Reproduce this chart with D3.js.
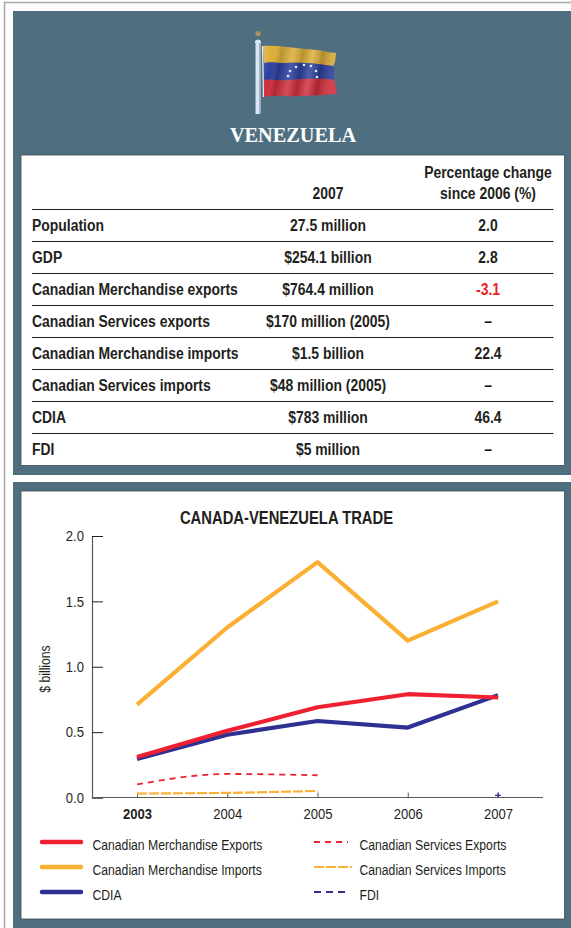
<!DOCTYPE html>
<html>
<head>
<meta charset="utf-8">
<script src="https://cdn.jsdelivr.net/npm/d3@7"></script>
<style>
html, body { margin: 0; padding: 0; background: #fff; }
svg { display: block; }
</style>
</head>
<body>
<div id="graph-container"></div>
<script>
const width = 571;
const height = 928;
const marginTop = 536;
const marginRight = 28;
const marginBottom = 130.5;
const marginLeft = 92;

// Table content
const rowLabels = ["Population", "GDP", "Canadian Merchandise exports", "Canadian Services exports",
    "Canadian Merchandise imports", "Canadian Services imports", "CDIA", "FDI"];
const values2007 = ["27.5 million", "$254.1 billion", "$764.4 million", "$170 million (2005)",
    "$1.5 billion", "$48 million (2005)", "$783 million", "$5 million"];
const pctChange = ["2.0", "2.8", "-3.1", "–", "22.4", "–", "46.4", "–"];

// Chart values, $ billions
const years = ["2003", "2004", "2005", "2006", "2007"];
const merchExports = [0.31, 0.51, 0.69, 0.79, 0.765];
const merchImports = [0.71, 1.3, 1.8, 1.2, 1.5];
const cdia = [0.295, 0.48, 0.585, 0.535, 0.783];
const servExports = [0.1, 0.18, 0.17, null, null];
const servImports = [0.03, 0.035, 0.05, null, null];
const fdi = [null, null, null, null, 0.005];
const yTicks = [0, 0.5, 1, 1.5, 2];

const red = "#ee2031";
const orange = "#fbb034";
const navy = "#2e3192";
const panel = "#4f6f80";
const ink = "#231f20";
const sans = "'Liberation Sans', sans-serif";

const svg = d3.select("#graph-container").append("svg")
    .attr("width", width)
    .attr("height", height)
    .attr("viewBox", [0, 0, width, height])
    .attr("font-family", sans)
    .attr("fill", ink);

// Page edge lines
svg.append("path")
    .attr("d", `M4.5,${height}V2.5H${width}`)
    .attr("fill", "none")
    .attr("stroke", "#a6a8ab")
    .attr("stroke-width", 1.5);

// Panels and white boxes
svg.append("rect").attr("x", 13).attr("y", 11).attr("width", width - 13).attr("height", 464).attr("fill", panel);
svg.append("rect").attr("x", 13).attr("y", 482).attr("width", width - 13).attr("height", height - 482).attr("fill", panel);
[[155, 310.5], [491, 428]].forEach(([y, h]) => {
    svg.append("rect")
        .attr("x", 21).attr("y", y).attr("width", 543.5).attr("height", h)
        .attr("fill", "#fff").attr("stroke", "#3c4a52").attr("stroke-width", 0.8);
});

// Flag
const defs = svg.append("defs");
defs.append("filter").attr("id", "soft").append("feGaussianBlur").attr("stdDeviation", 0.5);
const folds = defs.append("linearGradient").attr("id", "folds")
    .attr("x1", 0).attr("x2", 1).attr("y1", 0).attr("y2", 0.12);
[[0, 0.18, "#fff"], [0.14, 0, "#fff"], [0.26, 0.16, "#000"], [0.42, 0.14, "#fff"], [0.55, 0.16, "#000"],
    [0.68, 0.16, "#fff"], [0.82, 0.2, "#000"], [1, 0.1, "#fff"]].forEach(([o, a, c]) => {
    folds.append("stop").attr("offset", o).attr("stop-color", c).attr("stop-opacity", a);
});
const flagOutline = "M263,46C275,45 285,47 296,48C308,50 320,49 327,52L336,53L335,62L334,66L334,80L337,92L335,94C322,95 310,96 298,96C285,97 275,94 264,97Z";
const flag = svg.append("g").attr("filter", "url(#soft)");
flag.append("rect").attr("x", 255.5).attr("y", 42).attr("width", 5).attr("height", 72).attr("fill", "#dce6f2");
flag.append("rect").attr("x", 259).attr("y", 42).attr("width", 1.5).attr("height", 72).attr("fill", "#9db4cf");
flag.append("circle").attr("cx", 258).attr("cy", 33.5).attr("r", 2.6).attr("fill", "#a8925f");
flag.append("path").attr("d", "M255,41q3,-3 6,0v2h-6z").attr("fill", "#dce6f2");
flag.append("path").attr("fill", "#dcae38")
    .attr("d", "M263,46C275,45 285,47 296,48C308,50 320,49 327,52L336,53L335,62L333,66C315,63 300,62 285,63C277,63 270,62 264,63Z");
flag.append("path").attr("fill", "#2c3f9f")
    .attr("d", "M264,63C270,62 277,63 285,63C300,62 315,63 333,66L334,66L334,80C320,78 305,79 290,80C280,81 272,79 264,80Z");
flag.append("path").attr("fill", "#cf2e3c")
    .attr("d", "M264,80C272,79 280,81 290,80C305,79 320,78 334,80L337,92L335,94C322,95 310,96 298,96C285,97 275,94 264,97Z");
flag.append("path").attr("d", flagOutline).attr("fill", "url(#folds)");
flag.append("path").attr("d", "M262.5,46L263.5,97").attr("stroke", "#e8eef5").attr("stroke-width", 1.2).attr("fill", "none");
const stars = [[288, 76], [290, 71], [296, 67], [304, 65], [311, 66], [316, 71], [317, 77]];
flag.selectAll(".star").data(stars).join("circle")
    .attr("class", "star")
    .attr("cx", d => d[0]).attr("cy", d => d[1]).attr("r", 1.3).attr("fill", "#e3e7f5");

const countryTitle = svg.append("text")
    .attr("x", 293).attr("y", 142)
    .attr("text-anchor", "middle")
    .attr("font-family", "'Liberation Serif', serif")
    .attr("font-weight", "bold")
    .attr("font-size", 20.3)
    .attr("fill", "#fff")
    .text("VENEZUELA");

// Table
const col2 = 328;
const col3 = 488;
const rowY = i => 209 + i * 32;
const table = svg.append("g").attr("font-weight", "bold").attr("font-size", 16);

table.append("text").attr("x", col2).attr("y", 198.5).attr("text-anchor", "middle").text("2007");
table.append("text").attr("x", 488).attr("y", 178).attr("text-anchor", "middle").text("Percentage change");
table.append("text").attr("x", 488).attr("y", 198.5).attr("text-anchor", "middle").text("since 2006 (%)");

table.append("g")
    .selectAll("line")
    .data(d3.range(8))
    .join("line")
    .attr("x1", 32).attr("x2", 553.5)
    .attr("y1", d => rowY(d) + 0.5).attr("y2", d => rowY(d) + 0.5)
    .attr("stroke", ink);

rowLabels.forEach((label, i) => {
    const y = rowY(i) + 22;
    table.append("text").attr("x", 32).attr("y", y).text(label);
    table.append("text").attr("x", col2).attr("y", y).attr("text-anchor", "middle").text(values2007[i]);
    table.append("text").attr("x", col3).attr("y", y).attr("text-anchor", "middle")
        .attr("fill", pctChange[i].startsWith("-") ? "#ed1c24" : ink)
        .text(pctChange[i]);
});

// Chart title
const chartTitle = svg.append("text")
    .attr("x", 286.5).attr("y", 524)
    .attr("text-anchor", "middle")
    .attr("font-weight", "bold")
    .attr("font-size", 18.5)
    .text("CANADA-VENEZUELA TRADE");

// Scales
const x = d3.scalePoint()
    .domain(years)
    .range([137, 498]);

const y = d3.scaleLinear()
    .domain([0, 2])
    .range([height - marginBottom, marginTop]);

// Axes
const yAxis = svg.append("g")
    .attr("transform", `translate(${marginLeft},0)`)
    .call(d3.axisLeft(y).tickValues(yTicks).tickFormat(d3.format(".1f")).tickSize(-11).tickPadding(7));
yAxis.select(".domain").attr("stroke", "#58595b").attr("stroke-width", 1.2);
yAxis.selectAll(".tick line").attr("stroke", ink);
yAxis.selectAll("text").attr("font-family", sans).attr("font-size", 15).attr("fill", ink).attr("x", -8);

const xAxis = svg.append("g")
    .attr("transform", `translate(0,${height - marginBottom})`)
    .call(d3.axisBottom(x).tickSize(-5).tickPadding(11));
xAxis.select(".domain").attr("d", `M${marginLeft},0H${width - marginRight}`).attr("stroke", "#58595b").attr("stroke-width", 1.2);
xAxis.selectAll(".tick line").attr("stroke", "#58595b");
xAxis.selectAll("text").attr("font-family", sans).attr("font-size", 15).attr("fill", ink);
xAxis.select(".tick text").attr("font-weight", "bold");

svg.append("text")
    .attr("transform", "translate(50,669) rotate(-90)")
    .attr("text-anchor", "middle")
    .attr("font-size", 14)
    .text("$ billions");

// Series
const series = [
    { name: "Canadian Services Exports", values: servExports, color: red, w: 1.8, dash: "6 5", col: 1, row: 0, legendEnd: 348, smooth: true },
    { name: "Canadian Services Imports", values: servImports, color: orange, w: 2.2, dash: "10 2", col: 1, row: 1, legendEnd: 352, smooth: false },
    { name: "Canadian Merchandise Imports", values: merchImports, color: orange, w: 4.2, col: 0, row: 1, legendEnd: 81 },
    { name: "CDIA", values: cdia, color: navy, w: 4.2, col: 0, row: 2, legendEnd: 81 },
    { name: "Canadian Merchandise Exports", values: merchExports, color: red, w: 4.2, col: 0, row: 0, legendEnd: 81 }
];

const line = d3.line()
    .defined(d => d.v !== null)
    .x(d => x(d.year))
    .y(d => y(d.v));

series.forEach(s => {
    line.curve(s.smooth ? d3.curveMonotoneX : d3.curveLinear);
    svg.append("path")
        .attr("d", line(years.map((year, i) => ({ year, v: s.values[i] }))))
        .attr("fill", "none")
        .attr("stroke", s.color)
        .attr("stroke-width", s.w)
        .attr("stroke-dasharray", s.dash || null)
        .attr("stroke-linejoin", "round");
});

// FDI only has the one point, so it shows up as a small plus
svg.append("g")
    .selectAll("path")
    .data(years.map((year, i) => ({ year, v: fdi[i] })).filter(d => d.v !== null))
    .join("path")
    .attr("transform", d => `translate(${x(d.year)},${y(d.v) - 1.5})`)
    .attr("d", "M-3,0H3M0,-2.5V2.5")
    .attr("stroke", navy)
    .attr("stroke-width", 1.3);

// Legend
const legendRows = [842, 867, 892];
const legendCols = [{ x1: 42, tx: 92.5 }, { x1: 314, tx: 359.5 }];
const legendItems = [
    series[4], series[2], series[3], series[0], series[1],
    { name: "FDI", color: navy, w: 1.8, dash: "7 5", col: 1, row: 2, legendEnd: 348 }
];
const legend = svg.append("g").selectAll("g").data(legendItems).join("g");
legend.append("line")
    .attr("x1", d => legendCols[d.col].x1)
    .attr("x2", d => d.legendEnd)
    .attr("y1", d => legendRows[d.row])
    .attr("y2", d => legendRows[d.row])
    .attr("stroke", d => d.color)
    .attr("stroke-width", d => d.col === 0 ? 4.5 : d.w)
    .attr("stroke-linecap", d => d.col === 0 ? "round" : "butt")
    .attr("stroke-dasharray", d => d.dash || null);
legend.append("text")
    .attr("x", d => legendCols[d.col].tx)
    .attr("y", d => legendRows[d.row] + 8)
    .attr("font-size", 14)
    .text(d => d.name);

// No narrow Helvetica here, so squeeze the sans text to the condensed width
const countryNode = countryTitle.node();
const chartTitleNode = chartTitle.node();
svg.selectAll("text").each(function () {
    if (this === countryNode) return;
    const squeeze = this === chartTitleNode ? 0.8 : 0.87;
    d3.select(this)
        .attr("lengthAdjust", "spacingAndGlyphs")
        .attr("textLength", this.getComputedTextLength() * squeeze);
});
</script>
</body>
</html>
